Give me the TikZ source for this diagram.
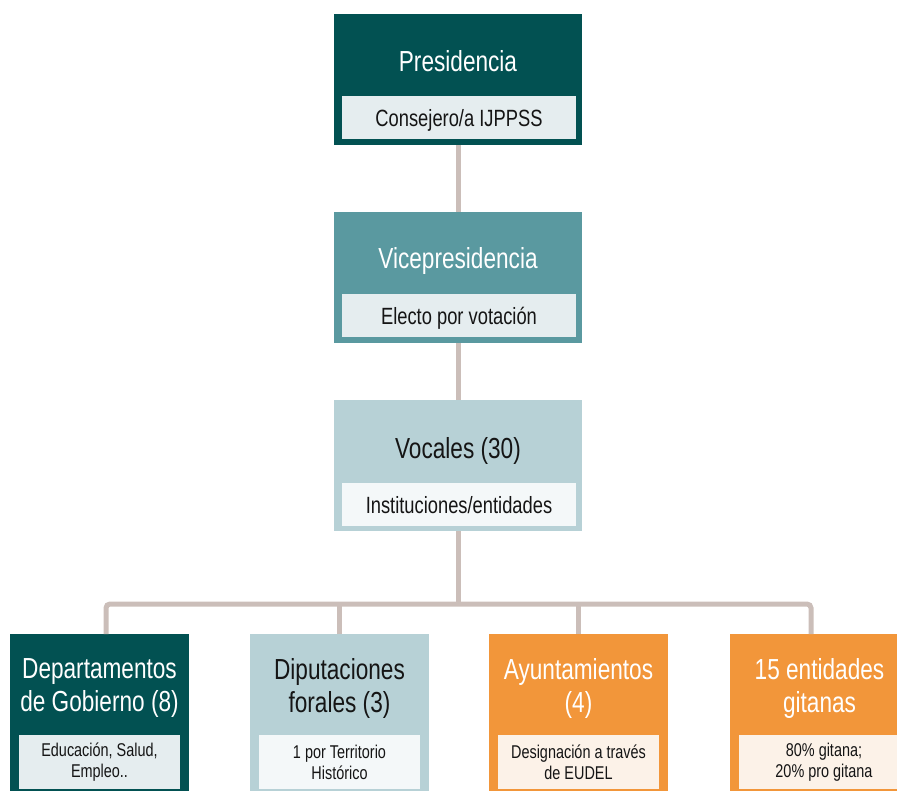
\documentclass[tikz,border=0pt]{standalone}
\usepackage{fontspec}
\setmainfont{Liberation Sans}[FakeStretch=0.78]
\definecolor{cDark}{HTML}{025152}
\definecolor{cMid}{HTML}{5A99A0}
\definecolor{cPale}{HTML}{B7D1D6}
\definecolor{cInA}{HTML}{E5EDEF}
\definecolor{cInB}{HTML}{F4F8F9}
\definecolor{cOr}{HTML}{F2963A}
\definecolor{cOrIn}{HTML}{FCF2E8}
\definecolor{cLine}{HTML}{CBBEB9}
\definecolor{cTxt}{HTML}{151515}
\tikzset{
  box/.style={rectangle, inner sep=0pt, outer sep=0pt, minimum width=248pt, minimum height=131pt},
  lowbox/.style={rectangle, inner sep=0pt, outer sep=0pt, minimum width=179pt, minimum height=157pt},
  ttl/.style={anchor=base, inner sep=0pt, font=\fontsize{29}{33}\selectfont},
  ttltwo/.style={anchor=center, inner sep=0pt, align=center, font=\fontsize{29}{33}\selectfont},
  subbox/.style={rectangle, inner sep=0pt, outer sep=0pt, minimum width=234pt, minimum height=43pt,
    text height=19pt, text depth=0pt, text=cTxt, font=\fontsize{23.5}{26}\selectfont},
  smallbox/.style={rectangle, inner sep=0pt, outer sep=0pt, minimum width=161pt, minimum height=54pt,
    align=center, text=cTxt, font=\fontsize{18.5}{21}\selectfont},
  conn/.style={draw=cLine, line width=5pt}
}
\begin{document}
\begin{tikzpicture}[x=1pt,y=-1pt]
\useasboundingbox (0,0) rectangle (897,791);
\clip (0,0) rectangle (897,791);
% top column
\node[box, fill=cDark] (pres) at (458,79.5) {};
\node[ttl, text=white] (presT) at (458,72) {Presidencia};
\node[subbox, fill=cInA] (presS) at (459,117.5) {Consejero/a IJPPSS};

\node[box, fill=cMid] (vice) at (458,277.5) {};
\node[ttl, text=white] (viceT) at (458,269) {Vicepresidencia};
\node[subbox, fill=cInA] (viceS) at (459,315.5) {Electo por votación};

\node[box, fill=cPale] (voc) at (458,465.5) {};
\node[ttl, text=cTxt] (vocT) at (458,458) {Vocales (30)};
\node[subbox, fill=cInB] (vocS) at (459,504) {Instituciones/entidades};

% bottom row
\node[lowbox, fill=cDark] (dept) at (99.5,712.5) {};
\node[ttltwo, text=white] (deptT) at (99.5,688) {Departamentos\\de Gobierno (8)};
\node[smallbox, fill=cInA] (deptS) at (99.5,762) {Educación, Salud,\\Empleo..};

\node[lowbox, fill=cPale] (dip) at (339.5,712.5) {};
\node[ttltwo, text=cTxt] (dipT) at (339.5,688) {Diputaciones\\forales (3)};
\node[smallbox, fill=cInB] (dipS) at (339.5,762) {1 por Territorio\\Histórico};

\node[lowbox, fill=cOr] (ayu) at (578.5,712.5) {};
\node[ttltwo, text=white] (ayuT) at (578.5,688) {Ayuntamientos\\(4)};
\node[smallbox, fill=cOrIn] (ayuS) at (578.5,762) {Designación a través\\de EUDEL};

\node[lowbox, fill=cOr] (ent) at (819.5,712.5) {};
\node[ttltwo, text=white] (entT) at (819.5,688) {15 entidades\\gitanas};
\node[smallbox, fill=cOrIn, minimum width=170pt] (entS) at (824,762) {80\% gitana;\\20\% pro gitana};

% connectors
\draw[conn] (pres.south) -- (vice.north);
\draw[conn] (vice.south) -- (voc.north);
\coordinate (bus) at (458,604);
\coordinate (dropA) at (106,634);
\coordinate (dropD) at (811,634);
\draw[conn] (voc.south) -- (bus);
\draw[conn, rounded corners=4pt] (dropA) |- (bus) -| (dropD);
\draw[conn] (dip.north) -- (dip.north |- bus);
\draw[conn] (ayu.north) -- (ayu.north |- bus);
\end{tikzpicture}
\end{document}
